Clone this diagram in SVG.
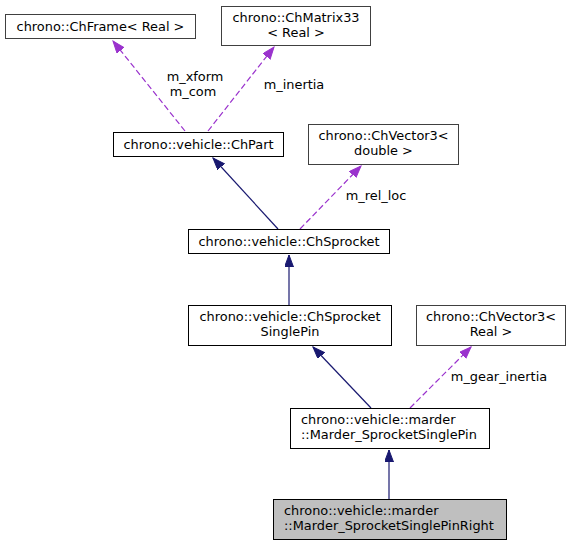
<svg xmlns="http://www.w3.org/2000/svg" width="572" height="545" viewBox="0 0 572 545">
<style>
text{font-family:"DejaVu Sans","Liberation Sans",sans-serif;font-size:12.9px;fill:#000}
.c{text-anchor:middle}
.box{fill:#fff;stroke:#000;stroke-width:1}
.ext{fill:#fff;stroke:#404040;stroke-width:1}
.inh{stroke:#191970;fill:none;stroke-width:1.2}
.use{stroke:#9a32cd;fill:none;stroke-width:1.2;stroke-dasharray:6,3}
</style>
<defs>
<marker id="an" markerUnits="userSpaceOnUse" markerWidth="13" markerHeight="10" refX="12" refY="4.5" orient="auto" viewBox="0 0 13 10"><path d="M0,0 L12,4.5 L0,9 z" fill="#191970" stroke="#191970"/></marker>
<marker id="ap" markerUnits="userSpaceOnUse" markerWidth="13" markerHeight="10" refX="12" refY="4.5" orient="auto" viewBox="0 0 13 10"><path d="M0,0 L12,4.5 L0,9 z" fill="#9a32cd" stroke="#9a32cd"/></marker>
</defs>
<rect width="572" height="545" fill="#fff"/>
<g id="edges">
<path class="use" d="M185,131 L113,41" marker-end="url(#ap)"/>
<path class="use" d="M208,131 L274,47" marker-end="url(#ap)"/>
<path class="inh" d="M278,229 L213,158" marker-end="url(#an)"/>
<path class="use" d="M300,229 L361,166" marker-end="url(#ap)"/>
<path class="inh" d="M289,305 L289,255" marker-end="url(#an)"/>
<path class="inh" d="M371,408 L313,347" marker-end="url(#an)"/>
<path class="use" d="M410,408 L471,347" marker-end="url(#ap)"/>
<path class="inh" d="M389,499 L389,450" marker-end="url(#an)"/>
<text class="c" x="195" y="81">m_xform</text>
<text class="c" x="193" y="96">m_com</text>
<text class="c" x="294" y="89">m_inertia</text>
<text class="c" x="376" y="200">m_rel_loc</text>
<text class="c" x="499" y="381">m_gear_inertia</text>
</g>
<g id="chframe"><rect class="ext" x="5.5" y="14.5" width="190" height="24"/><text class="c" x="100.5" y="30.5">chrono::ChFrame&lt; Real &gt;</text></g>
<g id="chmatrix33"><rect class="ext" x="221.5" y="6.5" width="149" height="39"/><text class="c" x="296" y="22">chrono::ChMatrix33</text><text class="c" x="296" y="37">&lt; Real &gt;</text></g>
<g id="chpart"><rect class="box" x="113.5" y="132.5" width="170" height="24"/><text class="c" x="198.5" y="148.5">chrono::vehicle::ChPart</text></g>
<g id="chvector3double"><rect class="ext" x="308.5" y="124.5" width="150" height="40"/><text class="c" x="383.5" y="140">chrono::ChVector3&lt;</text><text class="c" x="383.5" y="155">double &gt;</text></g>
<g id="chsprocket"><rect class="box" x="188.5" y="229.5" width="201" height="24"/><text class="c" x="289" y="245.5">chrono::vehicle::ChSprocket</text></g>
<g id="chsprocketsinglepin"><rect class="box" x="188.5" y="305.5" width="203" height="40"/><text class="c" x="290" y="321">chrono::vehicle::ChSprocket</text><text class="c" x="290" y="336">SinglePin</text></g>
<g id="chvector3real"><rect class="ext" x="416.5" y="305.5" width="149" height="40"/><text class="c" x="491" y="321">chrono::ChVector3&lt;</text><text class="c" x="491" y="336">Real &gt;</text></g>
<g id="mardersinglepin"><rect class="box" x="290.5" y="408.5" width="199" height="40"/><text x="301" y="424">chrono::vehicle::marder</text><text x="301" y="439">::Marder_SprocketSinglePin</text></g>
<g id="mardersinglepinright"><rect x="273.5" y="499.5" width="233" height="40" fill="#bfbfbf" stroke="#000"/><text x="284" y="515">chrono::vehicle::marder</text><text x="284" y="530">::Marder_SprocketSinglePinRight</text></g>
</svg>
